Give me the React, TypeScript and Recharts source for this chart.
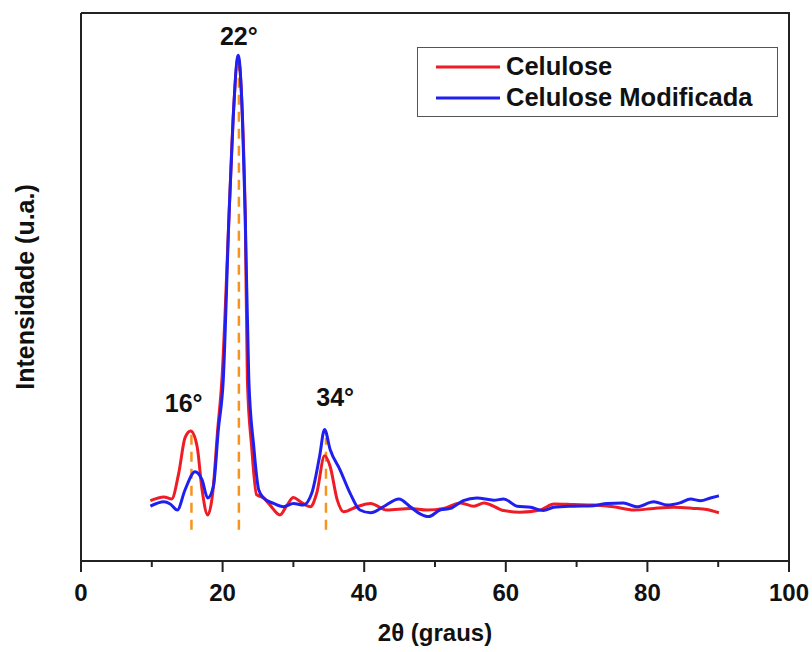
import {
  LineChart,
  Line,
  XAxis,
  YAxis,
  Legend,
  ReferenceLine,
  ReferenceDot,
} from "recharts";

// XRD patterns, 2θ (graus) vs intensidade (u.a.)
const celuloseX = [
  9.8, 11.7, 12.8, 13.8, 14.7, 15.5, 16.4, 17.1, 17.9, 18.6, 19.3, 19.9, 20.9, 21.5, 22.2,
  22.8, 23.2, 23.5, 24.1, 24.8, 25.8, 26.7, 28.1, 29.1, 30.0, 31.0, 32.4, 33.3, 34.4, 35.2,
  36.2, 37.1, 39.0, 40.9, 43.2, 46.5, 48.9, 51.2, 53.6, 55.5, 56.9, 59.7, 62.0, 64.9, 66.8,
  69.6, 72.4, 75.2, 78.1, 80.9, 83.7, 86.5, 88.4, 90.1,
];
const celuloseY = [
  11.0, 11.7, 11.3, 16.0, 22.5, 23.7, 20.9, 13.0, 8.4, 12.4, 23.9, 33.0, 62.8, 81.0, 91.8,
  81.0, 62.8, 33.0, 20.9, 12.1, 11.5, 10.2, 8.4, 10.2, 11.6, 10.8, 9.9, 12.4, 19.2, 17.2,
  11.1, 9.0, 9.9, 10.5, 9.3, 9.6, 9.3, 9.6, 10.6, 10.0, 10.6, 9.2, 8.9, 9.3, 10.4,
  10.3, 10.2, 9.9, 9.3, 9.6, 9.8, 9.6, 9.4, 8.8,
];

const modificadaX = [
  9.8, 11.7, 12.6, 13.6, 14.7, 16.1, 17.1, 17.9, 18.7, 19.4, 20.1, 20.9, 21.5, 22.2, 22.8,
  23.2, 23.7, 24.4, 25.1, 25.8, 27.2, 28.6, 30.0, 31.4, 32.6, 33.7, 34.4, 35.2, 36.6, 38.0,
  39.4, 40.9, 42.7, 44.9, 46.5, 47.9, 49.1, 50.7, 52.2, 54.0, 55.9, 58.3, 59.7, 61.6, 63.5,
  65.3, 66.8, 69.6, 72.4, 74.3, 76.6, 78.5, 80.9, 82.8, 84.6, 86.1, 87.5, 88.9, 90.1,
];
const modificadaY = [
  10.0, 10.8, 10.4, 9.3, 13.0, 16.3, 14.8, 11.5, 13.6, 24.0, 33.2, 62.8, 81.0, 92.3, 81.0,
  62.8, 33.2, 20.9, 13.0, 11.5, 10.5, 9.9, 10.5, 10.2, 12.4, 19.1, 24.0, 20.3, 16.6, 12.4,
  9.3, 8.8, 9.9, 11.3, 9.9, 8.6, 8.1, 9.3, 9.6, 11.0, 11.5, 11.1, 11.3, 10.0, 9.8,
  9.2, 9.8, 10.0, 10.1, 10.5, 10.6, 9.9, 10.8, 10.2, 10.6, 11.3, 11.0, 11.5, 11.9,
];

const peakAngles = [15.6, 22.3, 34.6];
const peakTops = [23.2, 91, 22.5];
const peakLabels = ["16°", "22°", "34°"];
const labelX = [14.5, 22.3, 35.9];
const labelY = [28.8, 95.7, 29.9];

const xTicks = [0, 10, 20, 30, 40, 50, 60, 70, 80, 90, 100];

const celulose = celuloseX.map((x, i) => ({ x, y: celuloseY[i] }));
const modificada = modificadaX.map((x, i) => ({ x, y: modificadaY[i] }));

const FONT = '"Liberation Sans", Arial, sans-serif';
const INK = "#222";
const MARGIN = { top: 13, right: 23, bottom: 0, left: 81 };

const XTick = (props: any) => {
  const { x, y, payload } = props;
  const major = payload.value % 20 === 0;
  return (
    <g>
      <line x1={x} x2={x} y1={y} y2={y + (major ? 11 : 6)} stroke={INK} strokeWidth={2} />
      {major && (
        <text x={x} y={y + 40} textAnchor="middle" fontSize={24} fontWeight="bold" fontFamily={FONT} fill="#111">
          {payload.value}
        </text>
      )}
    </g>
  );
};

// x title, plus the top and right edges of the plot frame
const XTitle = (props: any) => {
  const { viewBox } = props;
  if (!viewBox) return null;
  const { x, y, width } = viewBox;
  return (
    <g>
      <path
        d={`M${x},${MARGIN.top} L${x + width},${MARGIN.top} L${x + width},${y}`}
        fill="none"
        stroke={INK}
        strokeWidth={2}
      />
      <text
        x={x + width / 2}
        y={y + 80}
        textAnchor="middle"
        fontSize={24}
        fontWeight="bold"
        fontFamily={FONT}
        fill="#111"
      >
        2θ (graus)
      </text>
    </g>
  );
};

const YTitle = (props: any) => {
  const { viewBox } = props;
  if (!viewBox) return null;
  return (
    <text
      transform={`translate(${viewBox.x - 56},${viewBox.y + viewBox.height / 2}) rotate(-90)`}
      textAnchor="middle"
      dominantBaseline="central"
      fontSize={25}
      fontWeight="bold"
      fontFamily={FONT}
      fill="#111"
    >
      Intensidade (u.a.)
    </text>
  );
};

const LegendBox = (props: any) => (
  <div
    style={{
      border: "1.5px solid #555",
      background: "#fff",
      width: 361,
      height: 70,
      boxSizing: "border-box",
      padding: "3px 0 0 18px",
      fontFamily: FONT,
      fontWeight: "bold",
      fontSize: 25.5,
      color: "#111",
    }}
  >
    {props.payload.map((p: any) => (
      <div key={p.value} style={{ display: "flex", alignItems: "center", height: 31 }}>
        <svg width={64} height={10} style={{ marginRight: 6 }}>
          <line x1={0} x2={64} y1={5} y2={5} stroke={p.color} strokeWidth={3} />
        </svg>
        <span>{p.value}</span>
      </div>
    ))}
  </div>
);

export default function App() {
  return (
    <div style={{ position: "absolute", left: 0, top: 0, background: "#fff" }}>
      <LineChart width={812} height={652} margin={MARGIN}>
        <XAxis
          dataKey="x"
          type="number"
          domain={[0, 100]}
          ticks={xTicks}
          interval={0}
          height={91}
          tickSize={0}
          tickMargin={0}
          tickLine={false}
          tick={<XTick />}
          axisLine={{ stroke: INK, strokeWidth: 2 }}
          allowDuplicatedCategory={false}
          label={<XTitle />}
        />
        <YAxis type="number" domain={[0, 100]} hide />
        <ReferenceLine x={0} stroke={INK} strokeWidth={2} ifOverflow="visible" label={<YTitle />} />
        {peakAngles.map((a, i) => (
          <ReferenceLine
            key={"d" + i}
            segment={[
              { x: a, y: 5.7 },
              { x: a, y: peakTops[i] },
            ]}
            stroke="#f7941d"
            strokeWidth={2.5}
            strokeDasharray="10 7"
          />
        ))}
        <Line
          data={celulose}
          dataKey="y"
          name="Celulose"
          type="monotone"
          stroke="#ee1c25"
          strokeWidth={3}
          dot={false}
          isAnimationActive={false}
        />
        <Line
          data={modificada}
          dataKey="y"
          name="Celulose Modificada"
          type="monotone"
          stroke="#1f1ff0"
          strokeWidth={3}
          dot={false}
          isAnimationActive={false}
        />
        {peakLabels.map((t, i) => (
          <ReferenceDot
            key={"l" + i}
            x={labelX[i]}
            y={labelY[i]}
            r={0}
            fill="none"
            stroke="none"
            label={{
              value: t,
              position: "center",
              fontSize: 25,
              fontWeight: "bold",
              fontFamily: FONT,
              fill: "#111",
            }}
          />
        ))}
        <Legend
          layout="horizontal"
          verticalAlign="middle"
          align="center"
          content={<LegendBox />}
          wrapperStyle={{ left: 417, top: 47, width: 361, height: 70 }}
        />
      </LineChart>
    </div>
  );
}
